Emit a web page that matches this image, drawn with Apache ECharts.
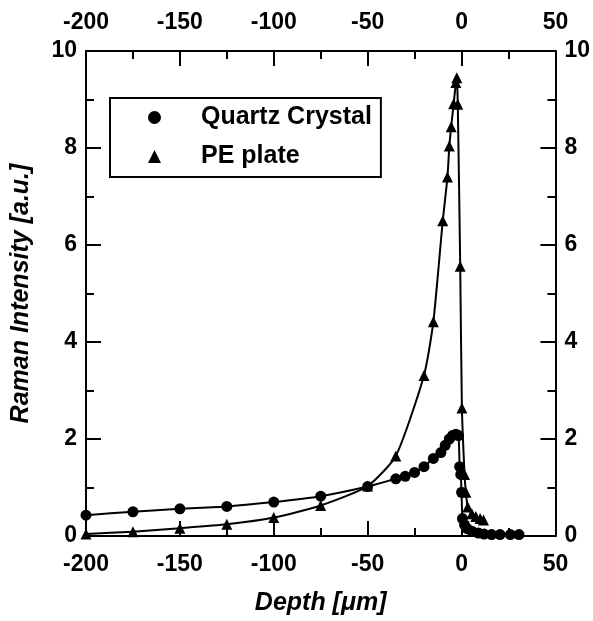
<!DOCTYPE html>
<html>
<head>
<meta charset="UTF-8">
<script src="https://cdn.jsdelivr.net/npm/echarts@6/dist/echarts.min.js"></script>
<title>Raman depth profile</title>
</head>
<body style="margin:0; background:#fff">
<div id="chart" style="width:593px; height:621px"></div>
<script>
    // values: [depth (um), intensity (a.u.)]
    var quartzData = [
        [-200, 0.43], [-175, 0.5], [-150, 0.56], [-125, 0.61], [-100, 0.7], [-75, 0.82],
        [-50, 1.02], [-35, 1.18], [-30, 1.23], [-25, 1.31], [-20, 1.43], [-15, 1.6],
        [-11, 1.72], [-8.7, 1.87], [-6.5, 2.0], [-4.8, 2.07], [-3, 2.1], [-1.6, 2.07],
        [-1, 1.43], [-0.4, 1.27], [0, 0.9], [0.5, 0.36], [1.6, 0.23], [3, 0.15],
        [5.5, 0.1], [9, 0.06], [12, 0.04], [16, 0.03], [20.5, 0.03], [26, 0.03], [30.6, 0.03]
    ];
    var peData = [
        [-200, 0.04], [-175, 0.09], [-150, 0.16], [-125, 0.24], [-100, 0.38], [-75, 0.63],
        [-50, 1.03], [-35, 1.65], [-20, 3.31], [-15, 4.42], [-10, 6.5], [-7.5, 7.4],
        [-6.5, 8.04], [-5.5, 8.44], [-4.2, 8.91], [-3, 9.35], [-2.5, 9.45], [-2, 8.9],
        [-0.7, 5.56], [0.2, 2.64], [1.6, 1.27], [2.3, 0.9], [3.3, 0.6], [5.5, 0.46],
        [7.6, 0.4], [9.9, 0.36], [11.7, 0.33]
    ];
    var seriesNames = ['Quartz Crystal', 'PE plate'];
    var xTitle = 'Depth [\u03bcm]';
    var yTitle = 'Raman Intensity [a.u.]';

    var font = 'Liberation Sans';
    var labelStyle = {color: '#000', fontSize: 23, fontWeight: 'bold', fontFamily: font};
    var titleStyle = {color: '#000', fontSize: 25, fontWeight: 'bold', fontStyle: 'italic', fontFamily: font};
    var lineStyle = {color: '#000', width: 2};

    function xAx(pos, title) {
        return {
            type: 'value', position: pos, min: -200, max: 50, interval: 50,
            name: title, nameLocation: 'middle', nameGap: 55,
            nameTextStyle: titleStyle,
            axisLine: {show: true, onZero: false, lineStyle: lineStyle},
            axisTick: {show: true, inside: true, length: 15, lineStyle: lineStyle},
            minorTick: {show: true, splitNumber: 2, length: 8, lineStyle: {color: '#000', width: 2}},
            axisLabel: Object.assign({margin: 17}, labelStyle),
            splitLine: {show: false}
        };
    }
    function yAx(pos, title) {
        return {
            type: 'value', position: pos, min: 0, max: 10, interval: 2,
            name: title, nameLocation: 'middle', nameGap: 52,
            nameTextStyle: titleStyle,
            axisLine: {show: true, onZero: false, lineStyle: lineStyle},
            axisTick: {show: true, inside: true, length: 15, lineStyle: lineStyle},
            minorTick: {show: true, splitNumber: 2, length: 8, lineStyle: {color: '#000', width: 2}},
            axisLabel: Object.assign({margin: 9}, labelStyle),
            splitLine: {show: false}
        };
    }

    var myChart = echarts.init(document.getElementById('chart'));
    var option = {
        animation: false,
        grid: {left: 86, right: 36, top: 51, bottom: 73, containLabel: false},
        legend: {
            left: 110, top: 98, orient: 'vertical',
            borderColor: '#000', borderWidth: 2, padding: [7, 9, 8, 38],
            itemGap: 14, itemWidth: 13, itemHeight: 13,
            textStyle: {color: '#000', fontSize: 25, fontWeight: 'bold', fontFamily: font, padding: [0, 0, 0, 35]},
            data: [
                {name: seriesNames[0], icon: 'circle'},
                {name: seriesNames[1], icon: 'triangle'}
            ]
        },
        xAxis: [xAx('bottom', xTitle), xAx('top', '')],
        yAxis: [yAx('left', yTitle), yAx('right', '')],
        series: [
            {
                name: seriesNames[0], type: 'line', data: quartzData,
                symbol: 'circle', symbolSize: 11, smooth: 0.2,
                itemStyle: {color: '#000'}, lineStyle: lineStyle
            },
            {
                name: seriesNames[1], type: 'line', data: peData,
                symbol: 'triangle', symbolSize: 11, smooth: 0.2,
                itemStyle: {color: '#000'}, lineStyle: lineStyle
            }
        ]
    };
    myChart.setOption(option);
</script>
</body>
</html>
